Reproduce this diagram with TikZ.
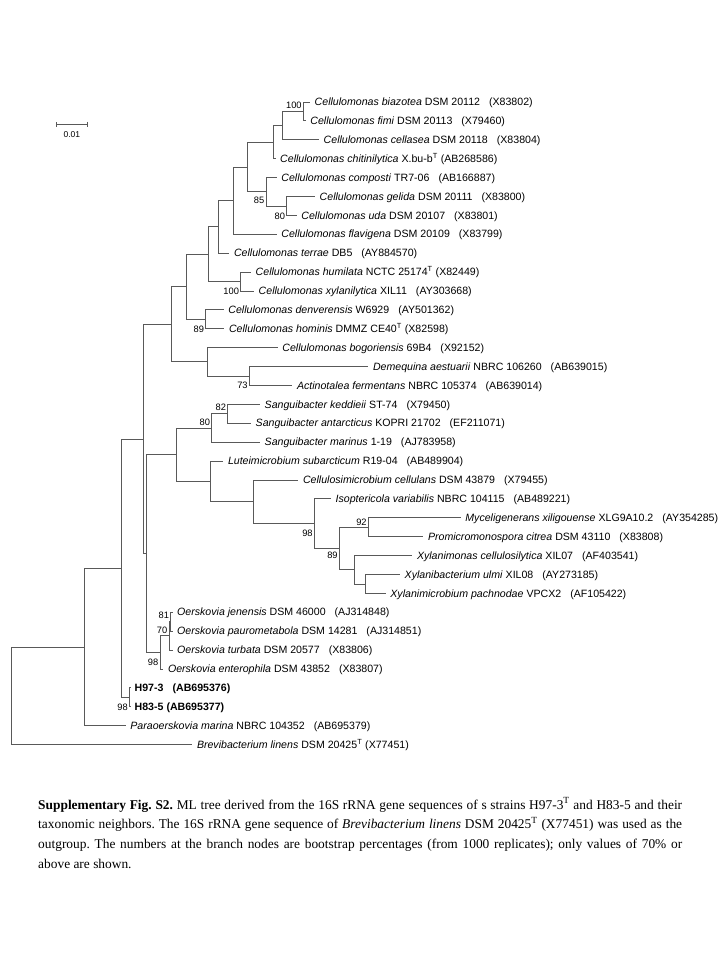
\documentclass[tikz,border=0pt]{standalone}
\usepackage{fontspec}
\setmainfont{Liberation Serif}
\newfontfamily\arialfont{Liberation Sans}
\usetikzlibrary{positioning, arrows.meta}
\newcommand{\acc}[1]{\hspace{0.85em}(#1)}
\newcommand{\typeT}{\textsuperscript{T}}

\begin{document}
\begin{tikzpicture}[x=1pt, y=-1pt,
    branch/.style={draw=black!65, line width=0.9pt},
    taxon/.style={font=\arialfont\fontsize{10.6}{12}\selectfont, inner sep=0pt, text height=7.2pt, text depth=0pt},
    boot/.style={font=\arialfont\fontsize{9.3}{11}\selectfont, inner sep=0pt, text height=6.7pt, text depth=0pt}]
    \path[use as bounding box, fill=white] (0,0) rectangle (720,960);

    \coordinate (biazotea) at (310,102);
    \coordinate (fimi) at (305.7,120.9);
    \coordinate (cellasea) at (319,139.8);
    \coordinate (chitin) at (275.5,158.7);
    \coordinate (composti) at (276.7,177.6);
    \coordinate (gelida) at (315,196.5);
    \coordinate (uda) at (296.7,215.4);
    \coordinate (flavigena) at (276.7,234.3);
    \coordinate (terrae) at (229.3,253.2);
    \coordinate (humilata) at (251,272.1);
    \coordinate (xylanil) at (254,291);
    \coordinate (denver) at (223.7,309.9);
    \coordinate (hominis) at (224.3,328.8);
    \coordinate (bogor) at (277.7,347.7);
    \coordinate (demequina) at (368.3,366.6);
    \coordinate (actino) at (292.3,385.5);
    \coordinate (keddieii) at (260,404.4);
    \coordinate (antarct) at (251,423.3);
    \coordinate (marinus) at (260,442.2);
    \coordinate (luteimi) at (223.3,461.1);
    \coordinate (cellulosi) at (298.3,480);
    \coordinate (isopter) at (331,498.9);
    \coordinate (mycel) at (460.7,517.8);
    \coordinate (promicro) at (423.3,536.7);
    \coordinate (xylmonas) at (412.3,555.6);
    \coordinate (xylbact) at (400,574.5);
    \coordinate (xylmicro) at (385.7,593.4);
    \coordinate (jenensis) at (172.5,612.3);
    \coordinate (pauro) at (172.5,631.2);
    \coordinate (turbata) at (172.5,650.1);
    \coordinate (entero) at (163.3,669);
    \coordinate (hninety) at (130,687.9);
    \coordinate (heighty) at (130,706.8);
    \coordinate (paraoer) at (125.7,725.7);
    \coordinate (brevi) at (192.3,744.6);

    \coordinate (bf) at (303.3,111.45);
    \coordinate (ca) at (282.7,125.6);
    \coordinate (cb) at (273.3,142.2);
    \coordinate (gu) at (286.7,205.95);
    \coordinate (cg) at (266,191.8);
    \coordinate (cc) at (247.3,167);
    \coordinate (cd) at (233.3,200.65);
    \coordinate (ce) at (218.7,226.9);
    \coordinate (hx) at (240.7,281.55);
    \coordinate (cf) at (208.3,254.2);
    \coordinate (dh) at (205.7,319.35);
    \coordinate (cgr) at (186.7,286.8);
    \coordinate (da) at (249.3,376.05);
    \coordinate (bd) at (207.3,361.9);
    \coordinate (cellu) at (171,324.35);
    \coordinate (ka) at (227.7,413.85);
    \coordinate (sang) at (211.7,428);
    \coordinate (mp) at (368.3,527.25);
    \coordinate (xx) at (365,583.95);
    \coordinate (xyl) at (354,569.8);
    \coordinate (mx) at (339.3,548.5);
    \coordinate (im) at (314.3,523.7);
    \coordinate (csi) at (253.3,501.85);
    \coordinate (lc) at (210.7,481.5);
    \coordinate (sl) at (176,454.75);
    \coordinate (jp) at (170.7,621.75);
    \coordinate (jt) at (169,635.9);
    \coordinate (oersk) at (160,652.45);
    \coordinate (so) at (146.7,553.6);
    \coordinate (co) at (143.3,439);
    \coordinate (strains) at (129.5,697.35);
    \coordinate (cs) at (121.7,568.2);
    \coordinate (cp) at (84,646.95);
    \coordinate (root) at (11.7,695.8);

    \draw[branch] (bf) |- (biazotea) (bf) |- (fimi);
    \draw[branch] (ca) |- (bf) (ca) |- (cellasea);
    \draw[branch] (cb) |- (ca) (cb) |- (chitin);
    \draw[branch] (gu) |- (gelida) (gu) |- (uda);
    \draw[branch] (cg) |- (composti) (cg) |- (gu);
    \draw[branch] (cc) |- (cb) (cc) |- (cg);
    \draw[branch] (cd) |- (cc) (cd) |- (flavigena);
    \draw[branch] (ce) |- (cd) (ce) |- (terrae);
    \draw[branch] (hx) |- (humilata) (hx) |- (xylanil);
    \draw[branch] (cf) |- (ce) (cf) |- (hx);
    \draw[branch] (dh) |- (denver) (dh) |- (hominis);
    \draw[branch] (cgr) |- (cf) (cgr) |- (dh);
    \draw[branch] (da) |- (demequina) (da) |- (actino);
    \draw[branch] (bd) |- (bogor) (bd) |- (da);
    \draw[branch] (cellu) |- (cgr) (cellu) |- (bd);
    \draw[branch] (ka) |- (keddieii) (ka) |- (antarct);
    \draw[branch] (sang) |- (ka) (sang) |- (marinus);
    \draw[branch] (mp) |- (mycel) (mp) |- (promicro);
    \draw[branch] (xx) |- (xylbact) (xx) |- (xylmicro);
    \draw[branch] (xyl) |- (xylmonas) (xyl) |- (xx);
    \draw[branch] (mx) |- (mp) (mx) |- (xyl);
    \draw[branch] (im) |- (isopter) (im) |- (mx);
    \draw[branch] (csi) |- (cellulosi) (csi) |- (im);
    \draw[branch] (lc) |- (luteimi) (lc) |- (csi);
    \draw[branch] (sl) |- (sang) (sl) |- (lc);
    \draw[branch] (jp) |- (jenensis) (jp) |- (pauro);
    \draw[branch] (jt) |- (jp) (jt) |- (turbata);
    \draw[branch] (oersk) |- (jt) (oersk) |- (entero);
    \draw[branch] (so) |- (sl) (so) |- (oersk);
    \draw[branch] (co) |- (cellu) (co) |- (so);
    \draw[branch] (strains) |- (hninety) (strains) |- (heighty);
    \draw[branch] (cs) |- (co) (cs) |- (strains);
    \draw[branch] (cp) |- (cs) (cp) |- (paraoer);
    \draw[branch] (root) |- (cp) (root) |- (brevi);

    \node[taxon, right=4.5pt of biazotea] (biazotea-t) {\textit{Cellulomonas biazotea} DSM 20112\acc{X83802}};
    \node[taxon, right=4.5pt of fimi] (fimi-t) {\textit{Cellulomonas fimi} DSM 20113\acc{X79460}};
    \node[taxon, right=4.5pt of cellasea] (cellasea-t) {\textit{Cellulomonas cellasea} DSM 20118\acc{X83804}};
    \node[taxon, right=4.5pt of chitin] (chitin-t) {\textit{Cellulomonas chitinilytica} X.bu-b\typeT{} (AB268586)};
    \node[taxon, right=4.5pt of composti] (composti-t) {\textit{Cellulomonas composti} TR7-06\acc{AB166887}};
    \node[taxon, right=4.5pt of gelida] (gelida-t) {\textit{Cellulomonas gelida} DSM 20111\acc{X83800}};
    \node[taxon, right=4.5pt of uda] (uda-t) {\textit{Cellulomonas uda} DSM 20107\acc{X83801}};
    \node[taxon, right=4.5pt of flavigena] (flavigena-t) {\textit{Cellulomonas flavigena} DSM 20109\acc{X83799}};
    \node[taxon, right=4.5pt of terrae] (terrae-t) {\textit{Cellulomonas terrae} DB5\acc{AY884570}};
    \node[taxon, right=4.5pt of humilata] (humilata-t) {\textit{Cellulomonas humilata} NCTC 25174\typeT{} (X82449)};
    \node[taxon, right=4.5pt of xylanil] (xylanil-t) {\textit{Cellulomonas xylanilytica} XIL11\acc{AY303668}};
    \node[taxon, right=4.5pt of denver] (denver-t) {\textit{Cellulomonas denverensis} W6929\acc{AY501362}};
    \node[taxon, right=4.5pt of hominis] (hominis-t) {\textit{Cellulomonas hominis} DMMZ CE40\typeT{} (X82598)};
    \node[taxon, right=4.5pt of bogor] (bogor-t) {\textit{Cellulomonas bogoriensis} 69B4\acc{X92152}};
    \node[taxon, right=4.5pt of demequina] (demequina-t) {\textit{Demequina aestuarii} NBRC 106260\acc{AB639015}};
    \node[taxon, right=4.5pt of actino] (actino-t) {\textit{Actinotalea fermentans} NBRC 105374\acc{AB639014}};
    \node[taxon, right=4.5pt of keddieii] (keddieii-t) {\textit{Sanguibacter keddieii} ST-74\acc{X79450}};
    \node[taxon, right=4.5pt of antarct] (antarct-t) {\textit{Sanguibacter antarcticus} KOPRI 21702\acc{EF211071}};
    \node[taxon, right=4.5pt of marinus] (marinus-t) {\textit{Sanguibacter marinus} 1-19\acc{AJ783958}};
    \node[taxon, right=4.5pt of luteimi] (luteimi-t) {\textit{Luteimicrobium subarcticum} R19-04\acc{AB489904}};
    \node[taxon, right=4.5pt of cellulosi] (cellulosi-t) {\textit{Cellulosimicrobium cellulans} DSM 43879\acc{X79455}};
    \node[taxon, right=4.5pt of isopter] (isopter-t) {\textit{Isoptericola variabilis} NBRC 104115\acc{AB489221}};
    \node[taxon, right=4.5pt of mycel] (mycel-t) {\textit{Myceligenerans xiligouense} XLG9A10.2\acc{AY354285}};
    \node[taxon, right=4.5pt of promicro] (promicro-t) {\textit{Promicromonospora citrea} DSM 43110\acc{X83808}};
    \node[taxon, right=4.5pt of xylmonas] (xylmonas-t) {\textit{Xylanimonas cellulosilytica} XIL07\acc{AF403541}};
    \node[taxon, right=4.5pt of xylbact] (xylbact-t) {\textit{Xylanibacterium ulmi} XIL08\acc{AY273185}};
    \node[taxon, right=4.5pt of xylmicro] (xylmicro-t) {\textit{Xylanimicrobium pachnodae} VPCX2\acc{AF105422}};
    \node[taxon, right=4.5pt of jenensis] (jenensis-t) {\textit{Oerskovia jenensis} DSM 46000\acc{AJ314848}};
    \node[taxon, right=4.5pt of pauro] (pauro-t) {\textit{Oerskovia paurometabola} DSM 14281\acc{AJ314851}};
    \node[taxon, right=4.5pt of turbata] (turbata-t) {\textit{Oerskovia turbata} DSM 20577\acc{X83806}};
    \node[taxon, right=4.5pt of entero] (entero-t) {\textit{Oerskovia enterophila} DSM 43852\acc{X83807}};
    \node[taxon, right=4.5pt of hninety] (hninety-t) {\textbf{H97-3\acc{AB695376}}};
    \node[taxon, right=4.5pt of heighty] (heighty-t) {\textbf{H83-5 (AB695377)}};
    \node[taxon, right=4.5pt of paraoer] (paraoer-t) {\textit{Paraoerskovia marina} NBRC 104352\acc{AB695379}};
    \node[taxon, right=4.5pt of brevi] (brevi-t) {\textit{Brevibacterium linens} DSM 20425\typeT{} (X77451)};

    \node[boot, left=1.5pt of bf, yshift=6.5pt] (bf-b) {100};
    \node[boot, left=1.5pt of cg, yshift=-8pt] (cg-b) {85};
    \node[boot, left=1.5pt of gu, yshift=-10pt] (gu-b) {80};
    \node[boot, left=1.5pt of hx, yshift=-9.5pt] (hx-b) {100};
    \node[boot, left=1.5pt of dh, yshift=-9.5pt] (dh-b) {89};
    \node[boot, left=1.5pt of da, yshift=-9.5pt] (da-b) {73};
    \node[boot, left=1.5pt of ka, yshift=7pt] (ka-b) {82};
    \node[boot, left=1.5pt of sang, yshift=6pt] (sang-b) {80};
    \node[boot, left=1.5pt of mp, yshift=5pt] (mp-b) {92};
    \node[boot, left=1.5pt of mx, yshift=-6.5pt] (mx-b) {89};
    \node[boot, left=1.5pt of im, yshift=-9pt] (im-b) {98};
    \node[boot, left=1.5pt of jp, yshift=6.5pt] (jp-b) {81};
    \node[boot, left=1.5pt of jt, yshift=6pt] (jt-b) {70};
    \node[boot, left=1.5pt of oersk, yshift=-9.5pt] (oersk-b) {98};
    \node[boot, left=1.5pt of strains, yshift=-9.5pt] (strains-b) {98};

    \coordinate (bar-l) at (56,124.3);
    \coordinate (bar-r) at (87.7,124.3);
    \draw[branch, {Bar[width=5pt]}-{Bar[width=5pt]}] (bar-l) -- node[midway, below=7pt, inner sep=0pt, text height=6pt, text depth=0pt, font=\arialfont\fontsize{8.5}{10}\selectfont] (bar-t) {0.01} (bar-r);

    \node[anchor=north west, inner sep=0pt, text width=644pt, align=justify, font=\fontsize{13.4}{19.8}\selectfont\frenchspacing] (caption) at (38,797.5) {\textbf{Supplementary Fig. S2.} ML tree derived from the 16S rRNA gene sequences of s strains H97-3\typeT{} and H83-5 and their\linebreak taxonomic neighbors. The 16S rRNA gene sequence of \textit{Brevibacterium linens} DSM 20425\typeT{} (X77451) was used as the\linebreak outgroup. The numbers at the branch nodes are bootstrap percentages (from 1000 replicates); only values of 70\% or\linebreak above are shown.};
\end{tikzpicture}
\end{document}
